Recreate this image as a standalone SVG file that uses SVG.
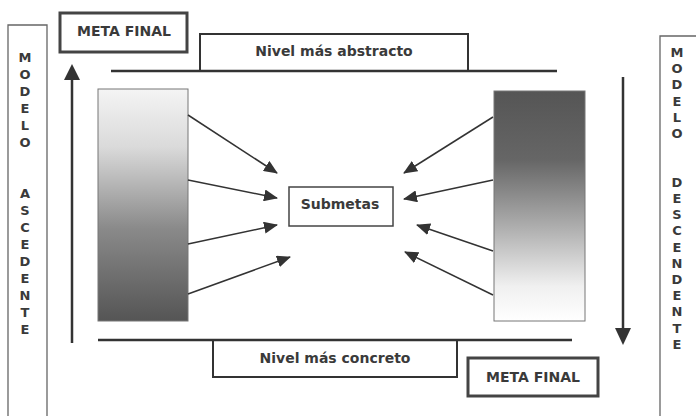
<svg xmlns="http://www.w3.org/2000/svg" width="696" height="416" viewBox="0 0 696 416">
<style>
.t{font-family:"DejaVu Sans","Verdana",sans-serif;font-weight:bold;fill:#3a3a3a}
.lbl{font-size:14px;text-anchor:middle}
.vl{font-size:13px;text-anchor:middle}
.thin{fill:#fff;stroke:#666;stroke-width:1.3}
.thick{fill:#fff;stroke:#444;stroke-width:3}
.mid{fill:#fff;stroke:#333;stroke-width:2}
.ln{stroke:#333;stroke-width:2.5;fill:none}
.ar{stroke:#333;stroke-width:1.5;fill:none;marker-end:url(#ah)}
</style>
<defs>
<marker id="ah" markerUnits="userSpaceOnUse" markerWidth="14" markerHeight="12" viewBox="0 0 14 12" refX="13" refY="6" orient="auto">
<path d="M0,0 L14,6 L0,12 Z" fill="#333"/>
</marker>
<linearGradient id="gUp" x1="0" y1="0" x2="0" y2="1">
<stop offset="0" stop-color="#f4f4f4"/>
<stop offset="0.25" stop-color="#dadada"/>
<stop offset="0.6" stop-color="#8a8a8a"/>
<stop offset="1" stop-color="#555"/>
</linearGradient>
<linearGradient id="gDown" x1="0" y1="0" x2="0" y2="1">
<stop offset="0" stop-color="#555"/>
<stop offset="0.3" stop-color="#666"/>
<stop offset="0.6" stop-color="#b0b0b0"/>
<stop offset="0.85" stop-color="#f0f0f0"/>
<stop offset="1" stop-color="#fff"/>
</linearGradient>
</defs>

<g id="modelo-ascendente">
<path class="thin" d="M8,417 V25 H47 V417"/>
<text class="t vl"><tspan x="25" y="62">M</tspan><tspan x="25" y="79">O</tspan><tspan x="25" y="96">D</tspan><tspan x="25" y="113">E</tspan><tspan x="25" y="130">L</tspan><tspan x="25" y="147">O</tspan><tspan x="25" y="198">A</tspan><tspan x="25" y="215">S</tspan><tspan x="25" y="232">C</tspan><tspan x="25" y="249">E</tspan><tspan x="25" y="266">D</tspan><tspan x="25" y="283">E</tspan><tspan x="25" y="300">N</tspan><tspan x="25" y="317">T</tspan><tspan x="25" y="334">E</tspan></text>
</g>

<g id="modelo-descendente">
<path class="thin" d="M660,417 V36 H697"/>
<text class="t vl"><tspan x="677" y="57">M</tspan><tspan x="677" y="73">O</tspan><tspan x="677" y="89">D</tspan><tspan x="677" y="106">E</tspan><tspan x="677" y="122">L</tspan><tspan x="677" y="138">O</tspan><tspan x="677" y="187">D</tspan><tspan x="677" y="203">E</tspan><tspan x="677" y="219">S</tspan><tspan x="677" y="235">C</tspan><tspan x="677" y="252">E</tspan><tspan x="677" y="268">N</tspan><tspan x="677" y="284">D</tspan><tspan x="677" y="300">E</tspan><tspan x="677" y="316">N</tspan><tspan x="677" y="333">T</tspan><tspan x="677" y="349">E</tspan></text>
</g>

<g id="meta-final-top">
<rect class="thick" x="60" y="13" width="127" height="39"/>
<text class="t lbl" x="124" y="36">META FINAL</text>
</g>

<g id="nivel-abstracto">
<path class="mid" d="M200,71 V34 H468 V71"/>
<text class="t lbl" x="334" y="56">Nivel más abstracto</text>
</g>

<g id="nivel-concreto">
<path class="mid" d="M213,341 V377 H457 V341"/>
<text class="t lbl" x="335" y="363">Nivel más concreto</text>
</g>

<g id="meta-final-bottom">
<rect class="thick" x="468" y="358" width="130" height="38"/>
<text class="t lbl" x="533" y="382">META FINAL</text>
</g>

<g id="bloque-izquierdo">
<rect x="98" y="89" width="90" height="232" fill="url(#gUp)" stroke="#777" stroke-width="1"/>
</g>

<g id="bloque-derecho">
<rect x="494" y="91" width="91" height="230" fill="url(#gDown)" stroke="#777" stroke-width="1"/>
</g>

<g id="submetas">
<rect x="289" y="187" width="104" height="39" fill="#fff" stroke="#444" stroke-width="1.5"/>
<text class="t lbl" x="340" y="209">Submetas</text>
</g>

<g id="connectors">
<line class="ln" x1="111" y1="71" x2="557" y2="71"/>
<line class="ln" x1="98" y1="340" x2="572" y2="340"/>
<line class="ln" x1="72" y1="343" x2="72" y2="78"/>
<path d="M72,64 L80,80 L64,80 Z" fill="#333"/>
<line class="ln" x1="623" y1="77" x2="623" y2="330"/>
<path d="M623,345 L615,328 L631,328 Z" fill="#333"/>
<line class="ar" x1="188" y1="115" x2="277" y2="173"/>
<line class="ar" x1="188" y1="180" x2="277" y2="198"/>
<line class="ar" x1="188" y1="244" x2="277" y2="225"/>
<line class="ar" x1="188" y1="294" x2="290" y2="257"/>
<line class="ar" x1="493" y1="117" x2="404" y2="173"/>
<line class="ar" x1="493" y1="180" x2="404" y2="199"/>
<line class="ar" x1="493" y1="251" x2="417" y2="225"/>
<line class="ar" x1="493" y1="295" x2="405" y2="252"/>
</g>
</svg>
